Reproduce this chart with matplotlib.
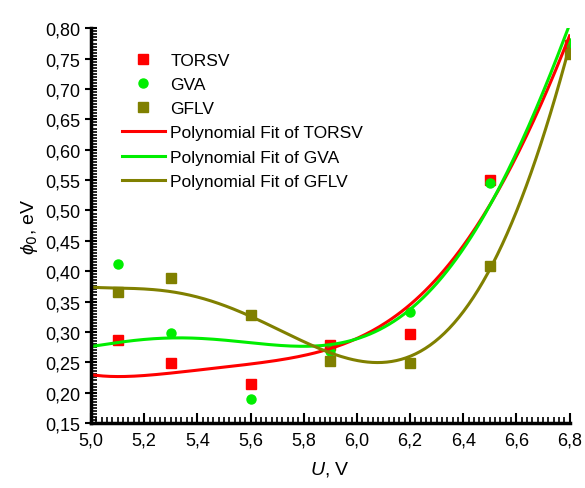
import numpy as np
import matplotlib
matplotlib.use('Agg')
import matplotlib.pyplot as plt
from matplotlib.ticker import MultipleLocator, FuncFormatter

plt.rcParams['font.family'] = ['Liberation Sans', 'DejaVu Sans']
plt.rcParams['mathtext.fontset'] = 'custom'
plt.rcParams['mathtext.it'] = 'Liberation Sans:italic'

u = [5.1, 5.3, 5.6, 5.9, 6.2, 6.5, 6.8]
torsv = [0.286, 0.248, 0.214, 0.278, 0.297, 0.550, 0.772]
gva = [0.412, 0.299, 0.190, 0.269, 0.332, 0.545, 0.776]
gflv = [0.365, 0.389, 0.328, 0.252, 0.248, 0.408, 0.758]

# fit curves, sampled off the chart
fit_u = [5.0, 5.1, 5.3, 5.6, 5.8, 5.9, 6.0, 6.1, 6.2, 6.3, 6.4, 6.5, 6.6, 6.7, 6.8]
fit_torsv = [0.228, 0.229, 0.232, 0.243, 0.262, 0.277, 0.292, 0.309, 0.343, 0.387, 0.442, 0.510, 0.587, 0.686, 0.786]
fit_gva = [0.275, 0.284, 0.290, 0.280, 0.276, 0.281, 0.291, 0.306, 0.335, 0.381, 0.437, 0.506, 0.593, 0.700, 0.804]
fit_gflv = [0.372, 0.375, 0.366, 0.324, 0.281, 0.266, 0.257, 0.253, 0.261, 0.283, 0.332, 0.398, 0.495, 0.634, 0.765]

series = [
    ('TORSV', torsv, fit_torsv, '#ff0000', 's'),
    ('GVA', gva, fit_gva, '#00ee00', 'o'),
    ('GFLV', gflv, fit_gflv, '#808000', 's'),
]

fig = plt.figure(figsize=(5.85, 4.89), dpi=100)
ax = fig.add_axes([0.1556, 0.133, 0.818, 0.807])

xx = np.linspace(5.0, 6.8, 200)
for name, vals, fv, col, mk in series:
    ax.plot(u, vals, linestyle='none', marker=mk, color=col, markersize=6.5, label=name)
for name, vals, fv, col, mk in series:
    # smooth the sampled curve with a polynomial
    p = np.polyfit(fit_u, fv, 5)
    ax.plot(xx, np.polyval(p, xx), color=col, lw=2.2, label='Polynomial Fit of ' + name)

ax.set_xlim(5.0, 6.8)
ax.set_ylim(0.15, 0.80)
ax.xaxis.set_major_locator(MultipleLocator(0.2))
ax.xaxis.set_minor_locator(MultipleLocator(0.02))
ax.yaxis.set_major_locator(MultipleLocator(0.05))
ax.yaxis.set_minor_locator(MultipleLocator(0.005))
ax.xaxis.set_major_formatter(FuncFormatter(lambda v, _: f'{v:.1f}'.replace('.', ',')))
ax.yaxis.set_major_formatter(FuncFormatter(lambda v, _: f'{v:.2f}'.replace('.', ',')))

for s in ['top', 'right']:
    ax.spines[s].set_visible(False)
for s in ['left', 'bottom']:
    ax.spines[s].set_linewidth(2.5)

ax.tick_params(axis='x', which='major', direction='in', length=7, width=1.5, labelsize=13, pad=6)
ax.tick_params(axis='x', which='minor', direction='in', length=4, width=1.2)
ax.tick_params(axis='y', which='major', direction='inout', length=9, width=1.5, labelsize=13, pad=3)
ax.tick_params(axis='y', which='minor', direction='in', length=4, width=1.2)

ax.set_xlabel('$U$, V', fontsize=14, labelpad=8)
ax.set_ylabel(r'$\phi_{0}$, eV', fontsize=14, labelpad=4)

ax.legend(loc='upper left', bbox_to_anchor=(0.046, 0.96), frameon=False, fontsize=12.5,
          handlelength=2.5, labelspacing=0.52, handletextpad=0.3, borderpad=0)

fig.savefig('out.png', dpi=100)
